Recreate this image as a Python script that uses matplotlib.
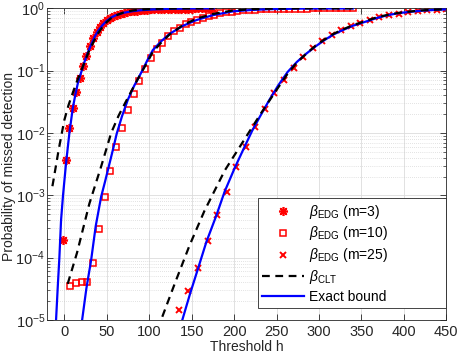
import numpy as np
import matplotlib
matplotlib.use("Agg")
import matplotlib.pyplot as plt
from matplotlib.ticker import LogLocator, MultipleLocator, NullFormatter

plt.rcParams['font.family'] = ['Liberation Sans', 'DejaVu Sans']
plt.rcParams['mathtext.fontset'] = 'custom'
plt.rcParams['mathtext.rm'] = 'Liberation Sans'
plt.rcParams['mathtext.it'] = 'Liberation Sans:italic'
plt.rcParams['font.size'] = 10

# EDG approximation, m=3 (asterisks)
edg3_h = [-2, 2, 6, 10, 14, 18, 22, 26, 30, 34, 38, 42, 46, 50, 54, 58, 62, 66, 70, 74,
          78, 82, 86, 90, 94, 98, 102, 106, 110, 114, 118, 122, 126, 130, 134, 138, 142,
          146, 150, 154, 158, 162, 166, 170, 174]
edg3_p = [1.9e-4, 3.7e-3, 1.2e-2, 2.5e-2, 4.6e-2, 7.6e-2, 0.117, 0.174, 0.245, 0.331,
          0.417, 0.501, 0.575, 0.646, 0.708, 0.759, 0.794, 0.822, 0.851, 0.871, 0.891,
          0.908, 0.920, 0.933, 0.942, 0.951, 0.957, 0.962, 0.966, 0.970, 0.975, 0.977,
          0.980, 0.983, 0.985, 0.987, 0.989, 0.990, 0.991, 0.993, 0.994, 0.995, 0.996,
          0.996, 0.997]

# EDG approximation, m=10 (squares)
edg10_h = [6.8, 13.6, 20.4, 27.2, 34.0, 40.8, 47.6, 54.4, 61.2, 68.0, 74.8, 81.6, 88.4,
           95.2, 102.0, 108.8, 115.6, 122.4, 129.2, 136.0, 142.8, 149.6, 156.4, 163.2,
           170.0, 176.8, 183.6, 190.4, 197.2, 204.0, 210.8, 217.6, 224.4, 231.2, 238.0,
           244.8, 251.6, 258.4, 265.2, 272.0, 278.8, 285.6, 292.4, 299.2, 306.0, 312.8,
           319.6, 326.4, 333.2, 340.0]
edg10_p = [3.5e-5, 3.9e-5, 4.0e-5, 4.1e-5, 8.3e-5, 2.9e-4, 9.3e-4, 2.45e-3, 5.9e-3,
           1.2e-2, 2.3e-2, 4.2e-2, 6.9e-2, 0.107, 0.158, 0.219, 0.282, 0.355, 0.427, 0.49,
           0.55, 0.60, 0.66, 0.71, 0.76, 0.79, 0.83, 0.86, 0.887, 0.908, 0.925, 0.94, 0.95,
           0.959, 0.968, 0.975, 0.979, 0.984, 0.986, 0.989, 0.991, 0.992, 0.993, 0.994,
           0.995, 0.996, 0.997, 0.997, 0.998, 0.998]

# EDG approximation, m=25 (crosses)
edg25_h = [135, 146.25, 157.5, 168.75, 180, 191.25, 202.5, 213.75, 225, 236.25, 247.5,
           258.75, 270, 281.25, 292.5, 303.75, 315, 326.25, 337.5, 348.75, 360, 371.25,
           382.5, 393.75, 405, 416.25, 427.5, 438.75, 450]
edg25_p = [1.45e-5, 2.9e-5, 6.8e-5, 1.86e-4, 4.8e-4, 1.15e-3, 2.8e-3, 6.0e-3, 1.26e-2,
           2.4e-2, 4.3e-2, 7.1e-2, 0.112, 0.166, 0.229, 0.295, 0.372, 0.447, 0.525, 0.589,
           0.661, 0.724, 0.776, 0.822, 0.861, 0.891, 0.923, 0.944, 0.959]

# CLT approximation (dashed)
clt3_h = [-14, -12.9, -6.6, 0, 5, 10, 15, 20, 25, 30, 35, 40, 45, 50, 55, 60, 70, 80, 90,
          105, 120, 150, 176]
clt3_p = [1.4e-3, 1.7e-3, 5.4e-3, 1.6e-2, 2.8e-2, 4.4e-2, 6.8e-2, 0.1, 0.15, 0.22, 0.30,
          0.40, 0.50, 0.60, 0.69, 0.76, 0.86, 0.92, 0.955, 0.98, 0.992, 0.999, 1.0]
clt10_h = [4, 15, 29.6, 43.4, 55.2, 64, 73.6, 82, 90, 98, 104.3, 114, 124, 140, 155.5,
           175, 198, 220, 240, 280, 340]
clt10_p = [3.8e-5, 1.2e-4, 7.4e-4, 2.9e-3, 1e-2, 1.9e-2, 3.4e-2, 5.6e-2, 8.9e-2, 0.138,
           0.2, 0.28, 0.38, 0.54, 0.68, 0.81, 0.92, 0.966, 0.986, 0.998, 1.0]
clt25_h = [110, 114, 130, 147.6, 165, 189, 218, 232, 250, 263, 274, 284.8, 296, 306.5, 317,
           328, 340, 353.7, 367, 381, 393, 404.8, 420, 435, 450]
clt25_p = [7.1e-6, 1e-5, 3.8e-5, 1.58e-4, 5.6e-4, 2.5e-3, 1.05e-2, 2.1e-2, 4.9e-2, 8.9e-2,
           0.135, 0.186, 0.251, 0.316, 0.389, 0.457, 0.537, 0.617, 0.708, 0.785, 0.841,
           0.881, 0.923, 0.951, 0.968]

# exact bound (solid blue)
ex3_h = [-10.5, -9.7, -7.8, -5.8, -3.8, -1.5, 2, 6, 10, 13, 16, 20, 24, 28, 32, 36, 40, 45,
         50, 55, 60, 70, 80, 90, 105, 120, 150, 176]
ex3_p = [5e-6, 1e-5, 3.2e-5, 1e-4, 4e-4, 1e-3, 3.2e-3, 1e-2, 2.5e-2, 4.1e-2, 6.3e-2,
         9.5e-2, 0.141, 0.2, 0.269, 0.355, 0.437, 0.537, 0.631, 0.708, 0.767, 0.847, 0.897,
         0.931, 0.959, 0.977, 0.991, 0.995]
ex10_h = [20, 21, 26, 31.6, 37, 43.4, 48, 52.4, 57, 61.8, 68, 74.8, 82, 91, 98, 104.3, 114,
          124, 140, 155.5, 175, 198, 220, 240, 280, 340]
ex10_p = [7.1e-6, 1e-5, 3.2e-5, 9.1e-5, 3.2e-4, 9.5e-4, 1.66e-3, 2.9e-3, 5.2e-3, 9.8e-3,
          1.86e-2, 3.4e-2, 5.6e-2, 9.5e-2, 0.148, 0.214, 0.295, 0.389, 0.525, 0.646, 0.776,
          0.891, 0.94, 0.966, 0.989, 0.995]
ex25_h = [136, 139, 148, 157.4, 167.3, 179, 188.9, 200.5, 211.3, 221.5, 232, 241.6, 252,
          263, 274, 284.8, 296, 306.5, 317, 328, 340, 353.7, 367, 381, 393, 404.8, 420, 435,
          450]
ex25_p = [7.1e-6, 1e-5, 2.6e-5, 6.6e-5, 1.78e-4, 4.7e-4, 1.15e-3, 2.7e-3, 5.6e-3, 1.1e-2,
          2e-2, 3.4e-2, 5.8e-2, 9.5e-2, 0.138, 0.186, 0.245, 0.309, 0.38, 0.447, 0.525,
          0.603, 0.692, 0.776, 0.832, 0.871, 0.912, 0.94, 0.959]

fig = plt.figure(figsize=(4.58, 3.59), dpi=100)
ax = fig.add_axes([0.1033, 0.1086, 0.8712, 0.8683])

red = '#ff0000'
ax.plot(edg3_h, edg3_p, ls='none', marker=(8, 2, 0), ms=6.5, mec=red, mew=1.2,
        label=r'$\beta_{\mathrm{EDG}}$ (m=3)')
ax.plot(edg10_h, edg10_p, ls='none', marker='s', ms=5, mfc='none', mec=red, mew=1.1,
        label=r'$\beta_{\mathrm{EDG}}$ (m=10)')
ax.plot(edg25_h, edg25_p, ls='none', marker='x', ms=5, mec=red, mew=1.4,
        label=r'$\beta_{\mathrm{EDG}}$ (m=25)')

blue = '#0000ff'
ax.plot(ex3_h, ex3_p, color=blue, lw=1.6, label='Exact bound', zorder=3)
ax.plot(ex10_h, ex10_p, color=blue, lw=1.6, zorder=3)
ax.plot(ex25_h, ex25_p, color=blue, lw=1.6, zorder=3)

for h, p, lab in [(clt3_h, clt3_p, r'$\beta_{\mathrm{CLT}}$'), (clt10_h, clt10_p, None),
                  (clt25_h, clt25_p, None)]:
    ax.plot(h, p, color='k', lw=1.6, ls=(0, (3.5, 2.5)), label=lab, zorder=4)

ax.set_yscale('log')
ax.set_xlim(-20, 450)
ax.set_ylim(1e-5, 1)
ax.xaxis.set_major_locator(MultipleLocator(50))
ax.yaxis.set_major_locator(LogLocator(base=10, numticks=10))
ax.yaxis.set_minor_locator(LogLocator(base=10, subs=np.arange(2, 10), numticks=20))
ax.yaxis.set_minor_formatter(NullFormatter())

ax.grid(True, which='major', color='#dcdcdc', lw=0.6, ls='-')
ax.grid(True, which='minor', axis='y', color='#c8c8c8', lw=0.5, ls=(0, (1, 2)))
ax.set_axisbelow(True)
ax.tick_params(which='both', direction='in', top=True, right=True, color='#262626',
               labelsize=10.5, labelcolor='#262626')
ax.tick_params(axis='y', pad=1.5)
ax.tick_params(which='major', length=4, width=0.6)
ax.tick_params(which='minor', length=2, width=0.5)
for s in ax.spines.values():
    s.set_color('#262626')
    s.set_linewidth(0.6)

ax.set_xlabel('Threshold h', fontsize=10, color='#262626', labelpad=1)
ax.set_ylabel('Probability of missed detection', fontsize=10, color='#262626')
ax.yaxis.set_label_coords(-0.079, 0.494)

handles, labels = ax.get_legend_handles_labels()
order = [0, 1, 2, 4, 3]
leg = ax.legend([handles[i] for i in order], [labels[i] for i in order],
                loc='lower left', bbox_to_anchor=(0.528, 0.0375, 0.472, 0.34),
                mode='expand', borderaxespad=0,
                fancybox=False, edgecolor='#262626', framealpha=1, numpoints=1,
                handlelength=3.0, handletextpad=0.4, fontsize=10, labelspacing=0.28,
                borderpad=0.3)
leg.get_frame().set_linewidth(0.6)

fig.savefig('out.png', dpi=100)
